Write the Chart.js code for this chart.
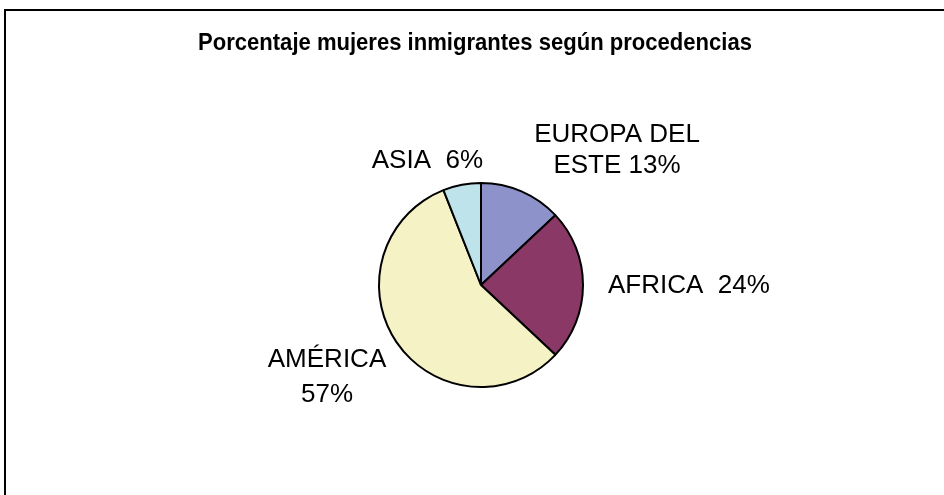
<!DOCTYPE html>
<html>
<head>
<meta charset="utf-8">
<script src="https://cdn.jsdelivr.net/npm/chart.js@4.4.1/dist/chart.umd.min.js"></script>
<style>
    html, body { margin: 0; padding: 0; background: #fff; overflow: hidden; }
    #wrap { position: relative; width: 944px; height: 495px; }
    #frame { position: absolute; left: 4px; top: 9px; width: 1200px; height: 1200px; border: 2px solid #000; }
    canvas { position: absolute; left: 0; top: 0; }
</style>
</head>
<body>
<div id="wrap">
    <div id="frame"></div>
    <canvas id="pieChart" width="944" height="495"></canvas>
</div>
<script>
// Data
const chartTitle = 'Porcentaje mujeres inmigrantes según procedencias';
const regions = ['EUROPA DEL ESTE', 'AFRICA', 'AMÉRICA', 'ASIA'];
const percents = [13, 24, 57, 6];
const sliceColors = ['#8e92cb', '#8a3866', '#f5f3c6', '#bfe3ea'];

// label text lines (per slice) and where they sit relative to pie center
const labelLines = [
    ['EUROPA DEL', 'ESTE 13%'],
    ['AFRICA  24%'],
    ['AMÉRICA', '57%'],
    ['ASIA  6%']
];
const labelPlace = [
    { dx: 136, dy: -143, align: 'center', lh: 31 },
    { dx: 127, dy: 8, align: 'left', lh: 31 },
    { dx: -154, dy: 82, align: 'center', lh: 35 },
    { dx: 2, dy: -117, align: 'right', lh: 31 }
];

const labelsPlugin = {
    id: 'pieLabels',
    afterDraw(chart) {
        const ctx = chart.ctx;
        const arcs = chart.getDatasetMeta(0).data;
        ctx.save();
        ctx.fillStyle = '#000';
        ctx.textBaseline = 'alphabetic';

        // title, condensed like the original
        ctx.font = 'bold 24px "Liberation Sans", Arial, sans-serif';
        const tw = ctx.measureText(chartTitle).width;
        const targetW = 554;
        ctx.save();
        ctx.translate(475, 50);
        ctx.scale(targetW / tw, 1);
        ctx.textAlign = 'center';
        ctx.fillText(chartTitle, 0, 0);
        ctx.restore();

        ctx.font = '26px "Liberation Sans", Arial, sans-serif';
        arcs.forEach((arc, i) => {
            const p = labelPlace[i];
            ctx.textAlign = p.align;
            labelLines[i].forEach((line, j) => {
                ctx.fillText(line, arc.x + p.dx, arc.y + p.dy + j * p.lh);
            });
        });
        ctx.restore();
    }
};

new Chart(document.getElementById('pieChart'), {
    type: 'pie',
    data: {
        labels: regions,
        datasets: [{
            data: percents,
            backgroundColor: sliceColors,
            borderColor: '#000',
            borderWidth: 2,
            radius: 102
        }]
    },
    options: {
        responsive: false,
        animation: false,
        layout: { padding: { left: 218, right: 200, top: 175, bottom: 100 } },
        plugins: {
            legend: { display: false },
            title: { display: false },
            tooltip: { enabled: false }
        }
    },
    plugins: [labelsPlugin]
});
</script>
</body>
</html>
